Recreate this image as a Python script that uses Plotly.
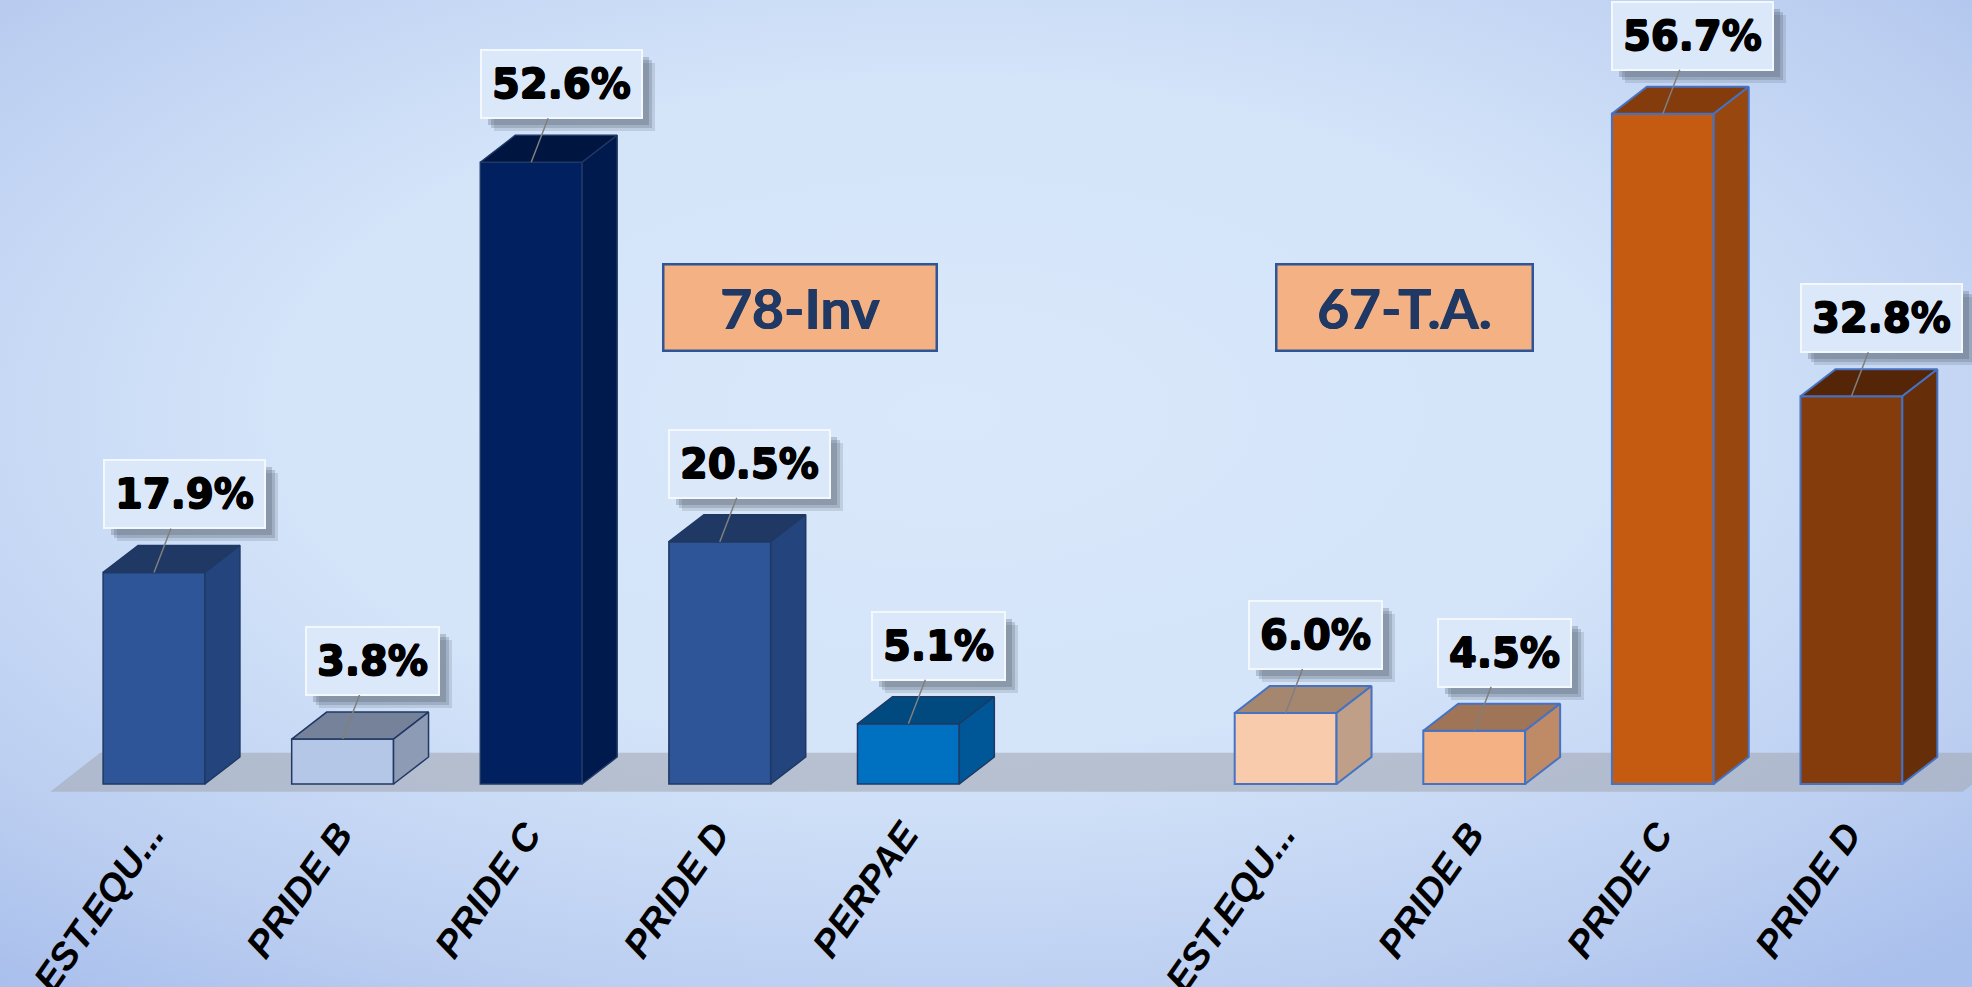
import base64
import plotly.graph_objects as go

# ---------------- data ----------------
left_cats = ["EST.EQU...", "PRIDE B", "PRIDE C", "PRIDE D", "PERPAE"]
left_vals = [17.9, 3.8, 52.6, 20.5, 5.1]
right_cats = ["EST.EQU...", "PRIDE B", "PRIDE C", "PRIDE D"]
right_vals = [6.0, 4.5, 56.7, 32.8]
group_titles = ["78-Inv", "67-T.A."]

# ---------------- styles ----------------
left_front = ["#2e5597", "#b4c7e7", "#002060", "#2e5597", "#0070c0"]
left_top = ["#1f3864", "#768299", "#001540", "#1f3864", "#004a80"]
left_side = ["#24447e", "#8d9cb4", "#001a4e", "#24447e", "#005798"]
right_front = ["#f8cbad", "#f4b183", "#c55a11", "#843c0c"]
right_top = ["#a5866f", "#a07456", "#843c0c", "#552507"]
right_side = ["#bf9f88", "#bf8a66", "#98470f", "#662e09"]
left_edge = "#1f3864"
right_edge = "#4472c4"

W, H = 1972, 987
M_B = 193
PX_PER_SLOT = 188.6
PX_PER_UNIT = 11.82
X0 = -0.8166
plot_h = H - M_B
y_top = 784 / PX_PER_UNIT
y_bot = -(plot_h - 784) / PX_PER_UNIT

half_w = 0.27
dep_x = 35 / PX_PER_SLOT
dep_y = 27 / PX_PER_UNIT

left_pos = list(range(len(left_cats)))
right_pos = [len(left_cats) + 1 + i for i in range(len(right_cats))]

fig = go.Figure()

# front faces
fig.add_trace(go.Bar(x=left_pos, y=left_vals, width=2 * half_w,
                     marker=dict(color=left_front, line=dict(color=left_edge, width=1.5)),
                     showlegend=False, hoverinfo="skip"))
fig.add_trace(go.Bar(x=right_pos, y=right_vals, width=2 * half_w,
                     marker=dict(color=right_front, line=dict(color=right_edge, width=2)),
                     showlegend=False, hoverinfo="skip"))


def add_faces(pos, vals, tops, sides, edge, ew):
    for c, v, tc, sc in zip(pos, vals, tops, sides):
        tx = [c - half_w, c + half_w, c + half_w + dep_x, c - half_w + dep_x, c - half_w]
        ty = [v, v, v + dep_y, v + dep_y, v]
        fig.add_trace(go.Scatter(x=tx, y=ty, mode="lines", fill="toself", fillcolor=tc,
                                 line=dict(color=edge, width=ew), showlegend=False,
                                 hoverinfo="skip"))
        sx = [c + half_w, c + half_w, c + half_w + dep_x, c + half_w + dep_x, c + half_w]
        sy = [0, v, v + dep_y, dep_y, 0]
        fig.add_trace(go.Scatter(x=sx, y=sy, mode="lines", fill="toself", fillcolor=sc,
                                 line=dict(color=edge, width=ew), showlegend=False,
                                 hoverinfo="skip"))


add_faces(left_pos, left_vals, left_top, left_side, left_edge, 1.5)
add_faces(right_pos, right_vals, right_top, right_side, right_edge, 2)

# floor (decorative plane under the bars)
fx0 = left_pos[0] - half_w - 0.28
fx1 = right_pos[-1] + half_w + 0.32
fdx, fdy = 0.265, 3.3
fy0 = -0.65
floor_path = (f"M {fx0},{fy0} L {fx1},{fy0} L {fx1 + fdx},{fy0 + fdy} "
              f"L {fx0 + fdx},{fy0 + fdy} Z")
fig.add_shape(type="path", path=floor_path, xref="x", yref="y", layer="below",
              fillcolor="rgba(165,170,182,0.6)", line=dict(width=0))

# value labels
annotations = []
ax_off, ay_off = 30, -78
heavy = "0.8px 0 0 #000, -0.8px 0 0 #000, 0 0.7px 0 #000, 0 -0.7px 0 #000"
for pos, vals in ((left_pos, left_vals), (right_pos, right_vals)):
    for c, v in zip(pos, vals):
        txt = f"{v:.1f}%"
        for sh, alpha in ((13, 0.16), (10, 0.22), (7, 0.25)):
            annotations.append(dict(x=c, y=v, xref="x", yref="y", text=txt,
                                    showarrow=True, arrowcolor="rgba(0,0,0,0)", arrowwidth=0.1,
                                    arrowhead=0, ax=ax_off, ay=ay_off,
                                    xshift=sh, yshift=-sh,
                                    font=dict(family="DejaVu Sans", size=40, color="rgba(0,0,0,0)",
                                              weight="bold"),
                                    bgcolor=f"rgba(70,80,95,{alpha})", borderpad=10,
                                    borderwidth=2, bordercolor="rgba(0,0,0,0)"))
        annotations.append(dict(x=c, y=v, xref="x", yref="y", text=txt,
                                showarrow=True, arrowcolor="#7f7f7f", arrowwidth=1.5,
                                arrowhead=0, ax=ax_off, ay=ay_off, standoff=0,
                                font=dict(family="DejaVu Sans", size=40, color="#000000",
                                          weight="bold", shadow=heavy),
                                bgcolor="#dbe8f9", borderpad=10,
                                borderwidth=2, bordercolor="#f3f8fe"))

# group titles
title_px = [(800, 308, 271), (1404, 308, 254)]
for t, (px, py, bw) in zip(group_titles, title_px):
    annotations.append(dict(x=px / W, y=1 - py / plot_h, xref="paper", yref="paper",
                            xanchor="center", yanchor="middle",
                            text=t, showarrow=False, width=bw, height=84,
                            font=dict(family="Lato", size=55, color="#1f3864", weight="bold",
                                      shadow="0.5px 0 0 #1f3864, -0.5px 0 0 #1f3864"),
                            bgcolor="#f4b183", bordercolor="#2f5597", borderwidth=2.5,
                            borderpad=0))

# background gradient
svg = (f"<svg xmlns='http://www.w3.org/2000/svg' width='{W}' height='{H}' "
       f"viewBox='0 0 {W} {H}' preserveAspectRatio='none'>"
       "<defs><radialGradient id='g' cx='0.48' cy='0.42' r='0.75'>"
       "<stop offset='0' stop-color='#d9e8fa'/>"
       "<stop offset='0.45' stop-color='#d4e4f9'/>"
       "<stop offset='0.8' stop-color='#bccff1'/>"
       "<stop offset='1' stop-color='#a9bfec'/>"
       "</radialGradient></defs>"
       f"<rect width='{W}' height='{H}' fill='url(#g)'/></svg>")
svg_uri = "data:image/svg+xml;base64," + base64.b64encode(svg.encode()).decode()

fig.update_layout(
    width=W, height=H,
    margin=dict(l=0, r=0, t=0, b=M_B, pad=0, autoexpand=False),
    paper_bgcolor="#c4d6f3", plot_bgcolor="rgba(0,0,0,0)",
    barmode="overlay", showlegend=False,
    annotations=annotations,
    images=[dict(source=svg_uri, xref="paper", yref="paper", x=0, y=1,
                 sizex=1, sizey=H / plot_h, sizing="stretch", layer="below",
                 xanchor="left", yanchor="top")],
    xaxis=dict(range=[X0, X0 + W / PX_PER_SLOT], showgrid=False, zeroline=False,
               showline=False, tickmode="array", tickvals=left_pos + right_pos,
               ticktext=left_cats + right_cats, tickangle=-55,
               ticks="outside", ticklen=2, tickcolor="rgba(0,0,0,0)",
               ticklabelshift=-4,
               automargin=False, ticklabeloverflow="allow",
               tickfont=dict(family="Liberation Sans", size=38,
                             color="#000000", weight="bold", style="italic"),
               fixedrange=True),
    yaxis=dict(range=[y_bot, y_top], visible=False, fixedrange=True, automargin=False),
)

fig.write_html("out.html", post_script="document.body.style.margin='0px';",
               config={"displayModeBar": False})
